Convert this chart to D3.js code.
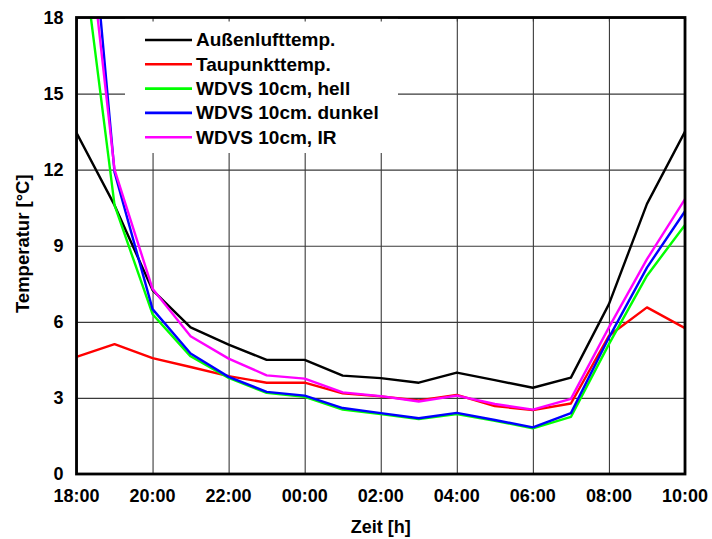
<!DOCTYPE html>
<html>
<head>
<meta charset="utf-8">
<script src="https://cdn.jsdelivr.net/npm/d3@7"></script>
<style>
  html, body { margin: 0; padding: 0; background: #fff; }
  svg { display: block; }
  text { font-family: "Liberation Sans", Arial, Helvetica, sans-serif; font-weight: bold; fill: #000; }
</style>
</head>
<body>
<svg id="chart" width="712" height="539"></svg>
<script>
// ---- data (hours after 18:00) ----
const hours = [0,1,2,3,4,5,6,7,8,9,10,11,12,13,14,15,16];
const xTickValues = [0,2,4,6,8,10,12,14,16];
const xTickLabels = ["18:00","20:00","22:00","00:00","02:00","04:00","06:00","08:00","10:00"];
const yTickValues = [0,3,6,9,12,15,18];

const aussenluft = [13.45,10.6,7.25,5.78,5.1,4.5,4.5,3.88,3.78,3.6,4.0,3.7,3.4,3.8,6.7,10.65,13.5];
const taupunkt   = [4.62,5.12,4.57,4.22,3.86,3.6,3.6,3.18,3.06,2.9,3.12,2.68,2.52,2.78,5.45,6.57,5.75];
const wdvsHell   = [22.5,10.6,6.3,4.64,3.79,3.2,3.04,2.54,2.36,2.17,2.36,2.1,1.8,2.25,5.12,7.82,9.82];
const wdvsDunkel = [28.5,11.9,6.5,4.75,3.83,3.24,3.09,2.6,2.4,2.2,2.41,2.13,1.84,2.4,5.38,8.14,10.36];
const wdvsIR     = [25.5,12.0,7.3,5.43,4.55,3.89,3.76,3.22,3.07,2.86,3.09,2.76,2.54,2.96,5.78,8.47,10.84];

const seriesNames  = ["Außenlufttemp.","Taupunkttemp.","WDVS 10cm, hell","WDVS 10cm. dunkel","WDVS 10cm, IR"];
const seriesValues = [aussenluft, taupunkt, wdvsHell, wdvsDunkel, wdvsIR];
const seriesColors = ["#000000","#ff0000","#00ff00","#0000ff","#ff00ff"];

// ---- layout ----
const L = 76.5, R = 685, T = 17.5, B = 474;
const svg = d3.select("#chart");
const x = d3.scaleLinear().domain([0,16]).range([L, R]);
const y = d3.scaleLinear().domain([0,18]).range([B, T]);

svg.append("rect").attr("width",712).attr("height",539).attr("fill","#fff");

// grid via axes
const gx = svg.append("g").attr("transform",`translate(0,${B})`)
  .call(d3.axisBottom(x).tickValues(xTickValues).tickSize(-(B-T)).tickFormat(""));
const gy = svg.append("g").attr("transform",`translate(${L},0)`)
  .call(d3.axisLeft(y).tickValues(yTickValues).tickSize(-(R-L)).tickFormat(""));
[gx, gy].forEach(g => {
  g.select(".domain").remove();
  g.selectAll(".tick line").attr("stroke","#3a3a3a").attr("stroke-width",1.1);
});

// legend background (covers grid)
svg.append("rect").attr("x",125).attr("y",T).attr("width",273).attr("height",153-T).attr("fill","#fff");

// top inward ticks
svg.append("g").attr("transform",`translate(0,${T})`)
  .call(d3.axisTop(x).tickValues(xTickValues).tickSize(-4).tickFormat(""))
  .call(g => { g.select(".domain").remove(); g.selectAll(".tick line").attr("stroke","#3a3a3a").attr("stroke-width",1.1); });

// clip
svg.append("clipPath").attr("id","plotclip").append("rect")
  .attr("x",L).attr("y",T).attr("width",R-L).attr("height",B-T);

const line = d3.line().x((d,i) => x(hours[i])).y(d => y(d));
const lg = svg.append("g").attr("clip-path","url(#plotclip)");
seriesValues.forEach((vals, k) => {
  lg.append("path").datum(vals).attr("d", line)
    .attr("fill","none").attr("stroke", seriesColors[k]).attr("stroke-width",2.4)
    .attr("stroke-linejoin","round");
});

// border
svg.append("rect").attr("x",L).attr("y",T).attr("width",R-L).attr("height",B-T)
  .attr("fill","none").attr("stroke","#000").attr("stroke-width",2.8);

// tick labels
svg.append("g").selectAll("text").data(xTickValues).join("text")
  .attr("x", d => x(d)).attr("y", 501.5).attr("text-anchor","middle")
  .attr("font-size","18px").text((d,i) => xTickLabels[i]);
svg.append("g").selectAll("text").data(yTickValues).join("text")
  .attr("x", 63.5).attr("y", d => y(d)).attr("dy","0.36em").attr("text-anchor","end")
  .attr("font-size","18px").text(d => d);

// axis titles
svg.append("text").attr("x", (L+R)/2).attr("y", 533).attr("text-anchor","middle")
  .attr("font-size","18px").text("Zeit [h]");
svg.append("text").attr("transform", `translate(28.5,${(T+B)/2 - 2}) rotate(-90)`)
  .attr("text-anchor","middle").attr("font-size","18.5px").text("Temperatur [°C]");

// legend
const leg = svg.append("g");
seriesNames.forEach((name, k) => {
  const cy = 40 + k*24.3;
  leg.append("line").attr("x1",145).attr("x2",192).attr("y1",cy).attr("y2",cy)
    .attr("stroke", seriesColors[k]).attr("stroke-width",2.6);
  leg.append("text").attr("x",196).attr("y",cy+6.4).attr("font-size","19px").text(name);
});
</script>
</body>
</html>
